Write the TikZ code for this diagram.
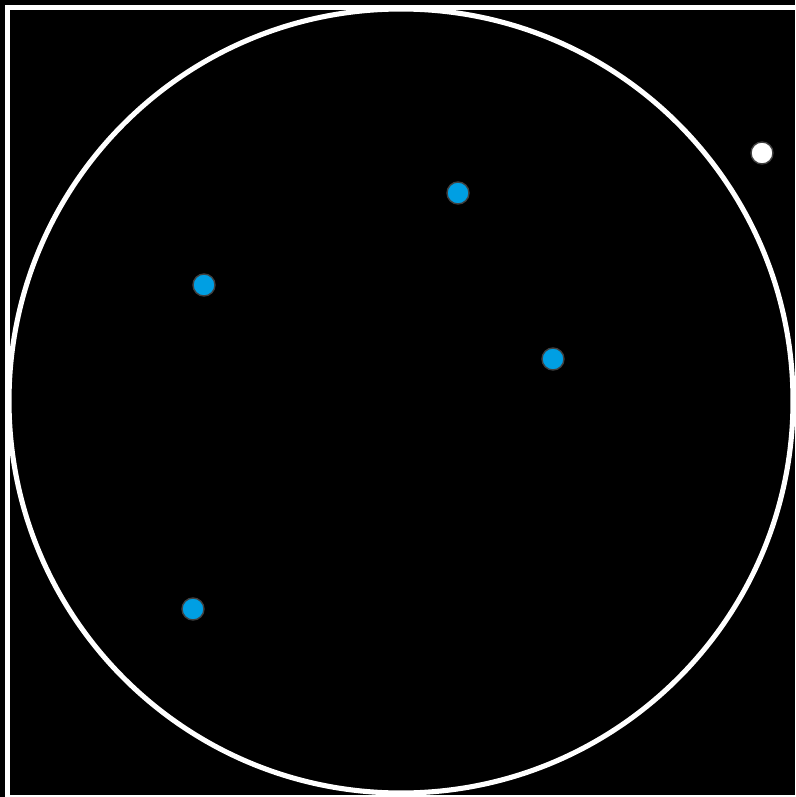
\documentclass[tikz,border=0pt]{standalone}
\usepackage{tikz}
\definecolor{dotblue}{HTML}{009FE3}
\definecolor{dotrim}{HTML}{404040}
\begin{document}
\begin{tikzpicture}[x=0.02cm, y=-0.02cm]
		\tikzstyle{sample} = [circle, draw=dotrim, line width=0.8pt, fill=dotblue, minimum size=22*0.02cm, inner sep=0pt]
		\tikzstyle{outlier} = [circle, draw=dotrim, line width=0.8pt, fill=white, minimum size=22*0.02cm, inner sep=0pt]

		% Background and frame
		\fill[black] (0,0) rectangle (795,797);
		\useasboundingbox (0,0) rectangle (795,797);
		\draw[white, line width=2.9pt] (7.5,7.5) rectangle (798,798);
		\draw[white, line width=2.9pt] (401,401) circle (392);

		% Define points
		\node[sample] (P1) at (458,193) {};
		\node[sample] (P2) at (204,285) {};
		\node[sample] (P3) at (553,359) {};
		\node[sample] (P4) at (193,609) {};
		\node[outlier] (P5) at (762,153) {};
		
		\end{tikzpicture}
\end{document}
